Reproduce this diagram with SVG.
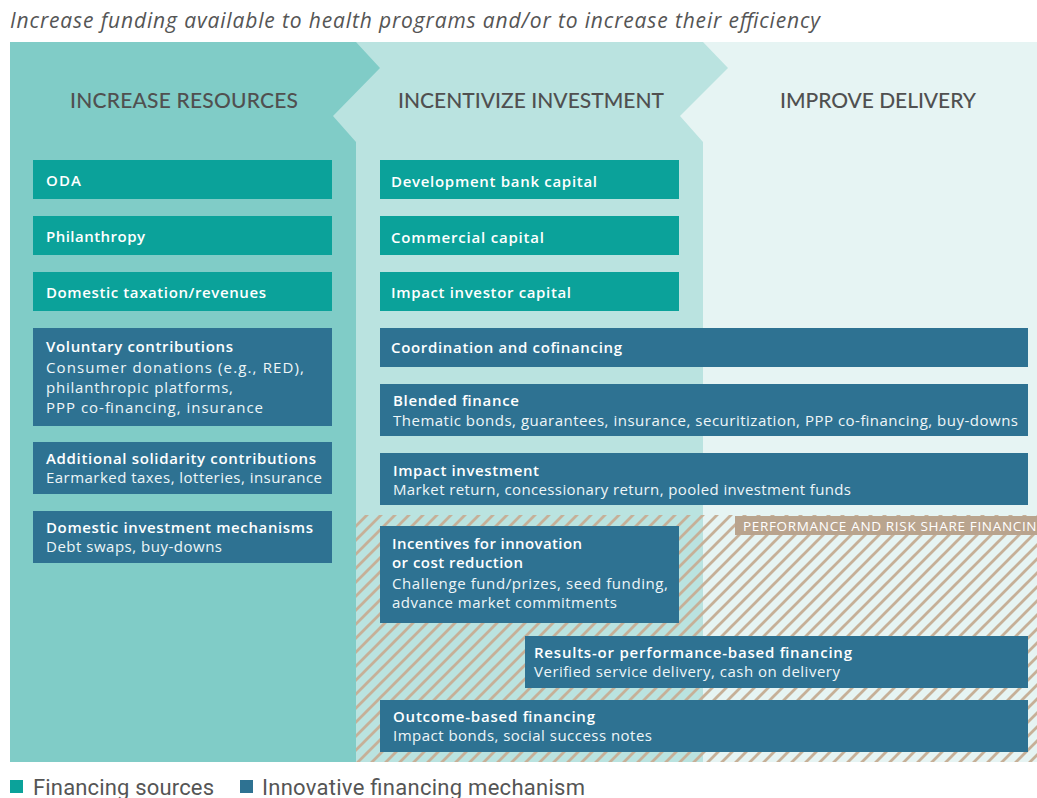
<svg xmlns="http://www.w3.org/2000/svg" width="1037" height="798" viewBox="0 0 1037 798">
  <defs>
    <pattern id="hatch" patternUnits="userSpaceOnUse" width="14" height="14">
      <path d="M-2,2 L2,-2 M0,14 L14,0 M12,16 L16,12" stroke="#c6b098" stroke-width="2.8" fill="none"/>
    </pattern>
    <style>
      .title { font-family: "Open Sans", "Noto Sans", sans-serif; font-style: italic; font-size: 21px; fill: #555555; }
      .head { font-family: Lato, "Open Sans", sans-serif; font-size: 21px; fill: #505050; font-weight: 500; text-anchor: middle; }
      .src { fill: #0ba29a; }
      .mech { fill: #2e7292; }
      .b { font-family: "Open Sans", "Noto Sans", sans-serif; font-size: 15px; font-weight: 600; fill: #ffffff; }
      .r { font-family: "Open Sans", "Noto Sans", sans-serif; font-size: 15px; font-weight: 400; fill: #eef6f8; }
      .legend { font-family: Roboto, "Open Sans", sans-serif; font-size: 22px; fill: #555555; }
      .tag { font-family: "Open Sans", "Noto Sans", sans-serif; font-size: 13.5px; fill: #ffffff; }
    </style>
  </defs>

  <text class="title" x="10" y="28" textLength="810">Increase funding available to health programs and/or to increase their efficiency</text>

  <g id="background">
    <rect x="10" y="42" width="1027" height="720" fill="#e6f4f3"/>
    <polygon points="10,42 703,42 728,68 680,116 703,142 703,762 10,762" fill="#bae3e0"/>
    <polygon points="10,42 356,42 380,68 333,116 356,142 356,762 10,762" fill="#80ccc7"/>
    <rect x="356" y="515" width="681" height="247" fill="url(#hatch)"/>
  </g>

  <g id="headers">
    <text class="head" x="184" y="108" textLength="228">INCREASE RESOURCES</text>
    <text class="head" x="531" y="108" textLength="266">INCENTIVIZE INVESTMENT</text>
    <text class="head" x="878" y="108" textLength="196">IMPROVE DELIVERY</text>
  </g>

  <g id="perf-risk-label">
    <rect x="735" y="516" width="310" height="19" fill="#b9a48e"/>
    <text class="tag" x="743" y="531" textLength="304">PERFORMANCE AND RISK SHARE FINANCING</text>
  </g>

  <g id="connectors"></g>

  <g id="oda">
    <rect class="src" x="33" y="160" width="299" height="39"/>
    <text class="b" x="46" y="186" textLength="35">ODA</text>
  </g>
  <g id="philanthropy">
    <rect class="src" x="33" y="216" width="299" height="39"/>
    <text class="b" x="46" y="242" textLength="99">Philanthropy</text>
  </g>
  <g id="domestic-taxation">
    <rect class="src" x="33" y="272" width="299" height="39"/>
    <text class="b" x="46" y="298" textLength="220">Domestic taxation/revenues</text>
  </g>
  <g id="voluntary-contributions">
    <rect class="mech" x="33" y="328" width="299" height="98"/>
    <text class="b" x="46" y="352" textLength="187">Voluntary contributions</text>
    <text class="r" x="46" y="373" textLength="258">Consumer donations (e.g., RED),</text>
    <text class="r" x="46" y="393" textLength="187">philanthropic platforms,</text>
    <text class="r" x="46" y="413" textLength="217">PPP co-financing, insurance</text>
  </g>
  <g id="additional-solidarity">
    <rect class="mech" x="33" y="442" width="299" height="52"/>
    <text class="b" x="46" y="464" textLength="270">Additional solidarity contributions</text>
    <text class="r" x="46" y="483" textLength="276">Earmarked taxes, lotteries, insurance</text>
  </g>
  <g id="domestic-investment">
    <rect class="mech" x="33" y="511" width="299" height="52"/>
    <text class="b" x="46" y="533" textLength="267">Domestic investment mechanisms</text>
    <text class="r" x="46" y="552" textLength="176">Debt swaps, buy-downs</text>
  </g>

  <g id="development-bank-capital">
    <rect class="src" x="380" y="160" width="299" height="39"/>
    <text class="b" x="391" y="187" textLength="206">Development bank capital</text>
  </g>
  <g id="commercial-capital">
    <rect class="src" x="380" y="216" width="299" height="39"/>
    <text class="b" x="391" y="243" textLength="153">Commercial capital</text>
  </g>
  <g id="impact-investor-capital">
    <rect class="src" x="380" y="272" width="299" height="39"/>
    <text class="b" x="391" y="298" textLength="180">Impact investor capital</text>
  </g>
  <g id="coordination-cofinancing">
    <rect class="mech" x="380" y="328" width="648" height="39"/>
    <text class="b" x="391" y="353" textLength="231">Coordination and cofinancing</text>
  </g>
  <g id="blended-finance">
    <rect class="mech" x="380" y="384" width="648" height="52"/>
    <text class="b" x="393" y="406" textLength="126">Blended finance</text>
    <text class="r" x="393" y="426" textLength="625">Thematic bonds, guarantees, insurance, securitization, PPP co-financing, buy-downs</text>
  </g>
  <g id="impact-investment">
    <rect class="mech" x="380" y="453" width="648" height="52"/>
    <text class="b" x="393" y="476" textLength="146">Impact investment</text>
    <text class="r" x="393" y="495" textLength="458">Market return, concessionary return, pooled investment funds</text>
  </g>
  <g id="incentives-innovation">
    <rect class="mech" x="380" y="526" width="299" height="97"/>
    <text class="b" x="392" y="549" textLength="190">Incentives for innovation</text>
    <text class="b" x="392" y="568" textLength="131">or cost reduction</text>
    <text class="r" x="392" y="589" textLength="276">Challenge fund/prizes, seed funding,</text>
    <text class="r" x="392" y="608" textLength="225">advance market commitments</text>
  </g>
  <g id="results-performance-financing">
    <rect class="mech" x="525" y="636" width="503" height="52"/>
    <text class="b" x="534" y="658" textLength="318">Results-or performance-based financing</text>
    <text class="r" x="534" y="677" textLength="306">Verified service delivery, cash on delivery</text>
  </g>
  <g id="outcome-based-financing">
    <rect class="mech" x="380" y="700" width="648" height="52"/>
    <text class="b" x="393" y="722" textLength="202">Outcome-based financing</text>
    <text class="r" x="393" y="741" textLength="259">Impact bonds, social success notes</text>
  </g>

  <g id="legend">
    <rect class="src" x="10" y="780" width="13" height="13"/>
    <text class="legend" x="33" y="795" textLength="181">Financing sources</text>
    <rect class="mech" x="240" y="780" width="13" height="13"/>
    <text class="legend" x="262" y="795" textLength="323">Innovative financing mechanism</text>
  </g>
</svg>
